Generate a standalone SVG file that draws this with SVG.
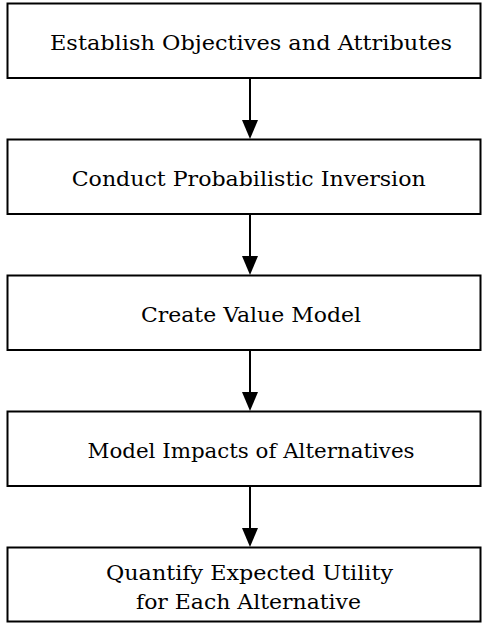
<svg xmlns="http://www.w3.org/2000/svg" width="483" height="623" viewBox="0 0 483 623">
  <style>
    .box { fill: #ffffff; stroke: #000000; stroke-width: 2; }
    .label { font-family: "DejaVu Serif", "Liberation Serif", serif; font-size: 20px; fill: #000000; text-anchor: middle; }
    .link { stroke: #000000; stroke-width: 2; fill: none; }
    .head { fill: #000000; }
  </style>
  <rect width="483" height="623" fill="#ffffff"/>

  <!-- vertical links with solid triangular heads -->
  <g id="connectors">
    <line class="link" x1="250" y1="78" x2="250" y2="121"/>
    <path class="head" d="M242,120 L258,120 L250,139 Z"/>
    <line class="link" x1="250" y1="214" x2="250" y2="257"/>
    <path class="head" d="M242,256 L258,256 L250,275 Z"/>
    <line class="link" x1="250" y1="350" x2="250" y2="393"/>
    <path class="head" d="M242,392 L258,392 L250,411 Z"/>
    <line class="link" x1="250" y1="486" x2="250" y2="529"/>
    <path class="head" d="M242,528 L258,528 L250,547 Z"/>
  </g>

  <g id="establish-objectives">
    <rect class="box" x="7.5" y="3.5" width="473" height="74.5"/>
    <text class="label" x="251" y="49.5" textLength="402" lengthAdjust="spacingAndGlyphs">Establish Objectives and Attributes</text>
  </g>
  <g id="probabilistic-inversion">
    <rect class="box" x="7.5" y="139.5" width="473" height="74.5"/>
    <text class="label" x="248.7" y="186" textLength="354" lengthAdjust="spacingAndGlyphs">Conduct Probabilistic Inversion</text>
  </g>
  <g id="value-model">
    <rect class="box" x="7.5" y="275.5" width="473" height="74.5"/>
    <text class="label" x="251" y="322" textLength="220" lengthAdjust="spacingAndGlyphs">Create Value Model</text>
  </g>
  <g id="model-impacts">
    <rect class="box" x="7.5" y="411.5" width="473" height="74.5"/>
    <text class="label" x="251" y="457.5" textLength="327" lengthAdjust="spacingAndGlyphs">Model Impacts of Alternatives</text>
  </g>
  <g id="expected-utility">
    <rect class="box" x="7.5" y="547.5" width="473" height="74"/>
    <text class="label" x="249.5" y="580" textLength="287" lengthAdjust="spacingAndGlyphs">Quantify Expected Utility</text>
    <text class="label" x="248.5" y="609" textLength="225" lengthAdjust="spacingAndGlyphs">for Each Alternative</text>
  </g>
</svg>
